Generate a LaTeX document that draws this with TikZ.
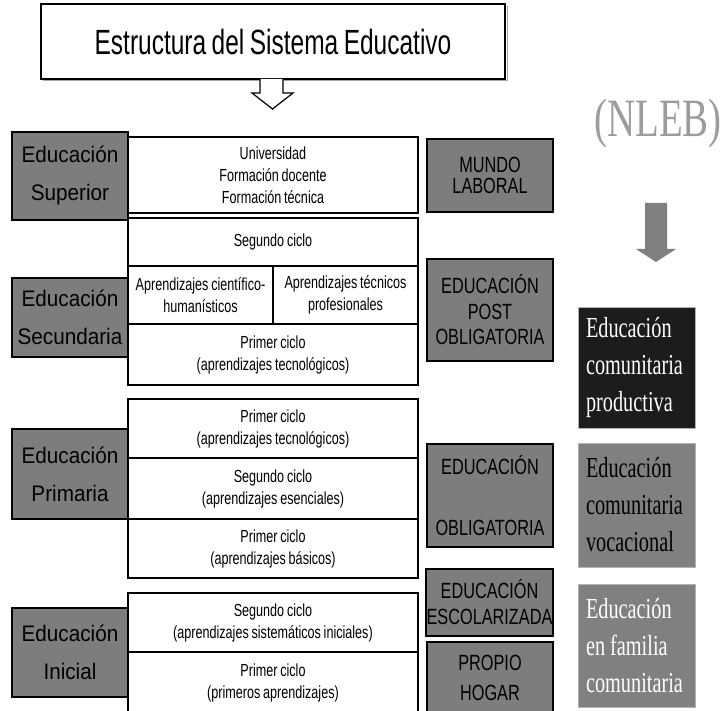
\documentclass[tikz,border=0pt]{standalone}
\usepackage{fontspec}
\setmainfont{Liberation Sans}
\newfontfamily\bigsans[FakeStretch=0.92]{Liberation Sans}
\newfontfamily\narrowsans[FakeStretch=0.72, WordSpace=0.8]{Liberation Sans}
\newfontfamily\stagesans[FakeStretch=0.74, WordSpace=0.8]{Liberation Sans}
\newfontfamily\titlesans[FakeStretch=0.70, WordSpace=0.8]{Liberation Sans}
\newfontfamily\serifnarrow[FakeStretch=0.70]{Liberation Serif}
\newfontfamily\nlebserif[FakeStretch=0.72]{Liberation Serif}
\definecolor{boxgray}{HTML}{7D7D7D}
\definecolor{colgray}{HTML}{808080}
\definecolor{darkbox}{HTML}{1C1C1C}
\definecolor{nlebgray}{HTML}{9C9C9C}
\tikzset{
  sz/.style 2 args={minimum width=#1, minimum height=#2},
  base/.style={inner sep=0pt, outer sep=0pt, align=center},
  titlebox/.style={base, draw=black, fill=white, line width=1.3pt,
    font=\titlesans\fontsize{35}{40}\selectfont},
  levelbox/.style={base, draw=black, fill=boxgray, line width=1.2pt,
    font=\bigsans\fontsize{22.5}{38}\selectfont},
  cellbox/.style={base, draw=black, fill=white, line width=1.2pt,
    font=\narrowsans\fontsize{17.5}{22}\selectfont},
  stagebox/.style={base, draw=black, fill=boxgray, line width=1.2pt,
    font=\stagesans\fontsize{22}{25.5}\selectfont},
  colbox/.style={inner xsep=8pt, inner ysep=0pt, outer sep=0pt, align=flush left,
    text width=101pt, minimum width=117pt, draw=gray!60, line width=0.6pt,
    font=\serifnarrow\fontsize{29}{37}\selectfont},
}
\begin{document}
\begin{tikzpicture}[x=1pt, y=-1pt]
\useasboundingbox (0,0) rectangle (726,711);

% title and hollow arrow
\draw[gray!70, line width=1pt] (43,81) -- (507,81) -- (507,6);
\node[titlebox, sz={464pt}{75pt}] (title) at (273,41.5) {Estructura del Sistema Educativo};
\draw[line width=1.2pt, fill=white] (260,79) -- (260,93) -- (252,93) -- (272.5,109)
  -- (293,93) -- (283,93) -- (283,79);

% Educación Superior
\node[cellbox, sz={290pt}{76pt}] (supw) at (273,175) {Universidad\\Formación docente\\Formación técnica};
\node[levelbox, sz={116pt}{88pt}] (sup) at (70,176) {Educación\\Superior};

% Educación Secundaria
\node[cellbox, sz={290pt}{48pt}] (sec2) at (273,242) {Segundo ciclo};
\node[cellbox, sz={145pt}{58pt}] (secA) at (200.5,295) {Aprendizajes científico-\\humanísticos};
\node[cellbox, sz={145pt}{58pt}] (secB) at (345.5,295) {Aprendizajes técnicos\\profesionales};
\node[cellbox, sz={290pt}{61pt}] (sec1) at (273,354.5) {Primer ciclo\\(aprendizajes tecnológicos)};
\node[levelbox, sz={116pt}{79pt}] (sec) at (70,317.5) {Educación\\Secundaria};

% Educación Primaria
\node[cellbox, sz={290pt}{59pt}] (pri3) at (273,428.5) {Primer ciclo\\(aprendizajes tecnológicos)};
\node[cellbox, sz={290pt}{61pt}] (pri2) at (273,488.5) {Segundo ciclo\\(aprendizajes esenciales)};
\node[cellbox, sz={290pt}{59pt}] (pri1) at (273,548.5) {Primer ciclo\\(aprendizajes básicos)};
\node[levelbox, sz={116pt}{90pt}] (pri) at (70,474) {Educación\\Primaria};

% Educación Inicial
\node[cellbox, sz={290pt}{59pt}] (ini2) at (273,622.5) {Segundo ciclo\\(aprendizajes sistemáticos iniciales)};
\node[cellbox, sz={290pt}{61pt}] (ini1) at (273,682.5) {Primer ciclo\\(primeros aprendizajes)};
\node[levelbox, sz={116pt}{89pt}] (ini) at (70,652.5) {Educación\\Inicial};

% stage boxes
\node[stagebox, sz={126pt}{73pt}, font=\stagesans\fontsize{22}{21}\selectfont] (mundo) at (490,175.5) {MUNDO\\LABORAL};
\node[stagebox, sz={126pt}{102pt}] (post) at (490,310) {EDUCACIÓN\\POST\\OBLIGATORIA};
\node[stagebox, sz={126pt}{103pt}, font=\stagesans\fontsize{22}{30.5}\selectfont] (oblig) at (490,495.5) {EDUCACIÓN\\\mbox{}\\OBLIGATORIA};
\node[stagebox, sz={127pt}{67pt}, font=\stagesans\fontsize{22}{26}\selectfont] (escol) at (489.5,602.5) {EDUCACIÓN\\ESCOLARIZADA};
\node[stagebox, sz={126pt}{71pt}, font=\stagesans\fontsize{22}{30}\selectfont] (hogar) at (490,677.5) {PROPIO\\HOGAR};

% NLEB column
\node[inner sep=0pt, anchor=base, text=nlebgray, font=\nlebserif\fontsize{54}{54}\selectfont] (nleb) at (658,137) {(NLEB)};
\fill[colgray] (645,203) -- (667,203) -- (667,249) -- (676,249) -- (656,262)
  -- (636,249) -- (645,249) -- cycle;
\node[colbox, fill=darkbox, text=white, minimum height=121pt] (prod) at (636.5,367.5) {Educación\\comunitaria\\productiva};
\node[colbox, fill=colgray, text=black, minimum height=124pt] (voc) at (636.5,505) {Educación\\comunitaria\\vocacional};
\node[colbox, fill=colgray, text=white, minimum height=123pt] (fam) at (636.5,645.5) {Educación\\en\hspace{5pt}familia\\comunitaria};
\end{tikzpicture}
\end{document}
